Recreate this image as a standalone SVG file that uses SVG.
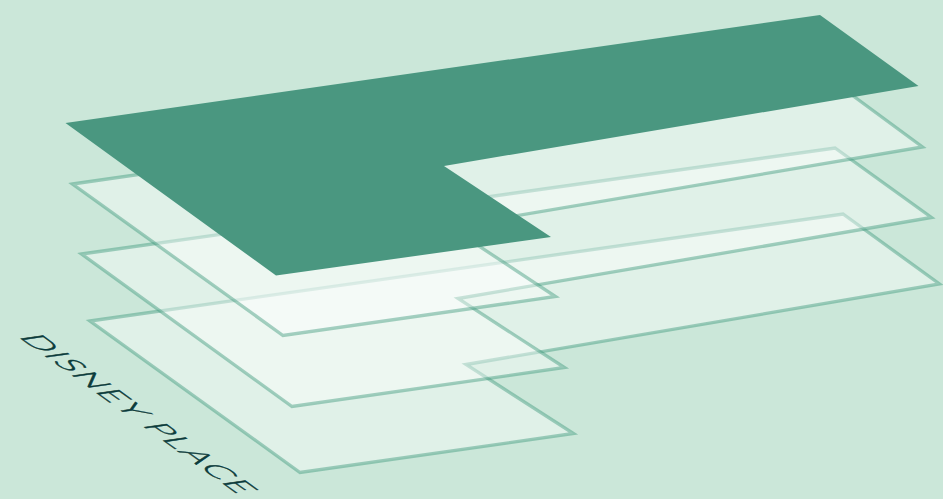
<svg xmlns="http://www.w3.org/2000/svg" width="943" height="499" viewBox="0 0 943 499">
<style>
.layer{fill:#fff;fill-opacity:.41;stroke:#3f9a7c;stroke-opacity:.45;stroke-width:3.300;stroke-linejoin:miter;stroke-miterlimit:10}
.top{fill:#4a9780}
.label{font-family:Lato,"Open Sans",sans-serif;font-size:32px;font-weight:300;fill:#0b3b3b;letter-spacing:1.700px;stroke:#0b3b3b;stroke-width:.6px}
</style>
<rect width="943" height="499" fill="#cbe7d9"/>
<g id="level-3"><polygon class="layer" points="90,321 843,214 939.500,284 466,364.500 573.500,433.500 300,472.500"/></g>
<g id="level-2"><polygon class="layer" points="81.500,254 835,148 931.500,217.500 458,298.500 564.500,367.500 292,406.500"/></g>
<g id="level-1"><polygon class="layer" points="72.500,184 826,76 922.500,147 450,227 555.500,296.500 283,335.500"/></g>
<g id="level-top"><polygon class="top" points="65.500,123 820,15 918.500,86 444,166 551,237 276,275.500"/></g>
<g id="label"><text class="label" transform="matrix(.943 .676 -.99 .14 17.500 336.500)">DISNEY PLACE</text></g>
</svg>
